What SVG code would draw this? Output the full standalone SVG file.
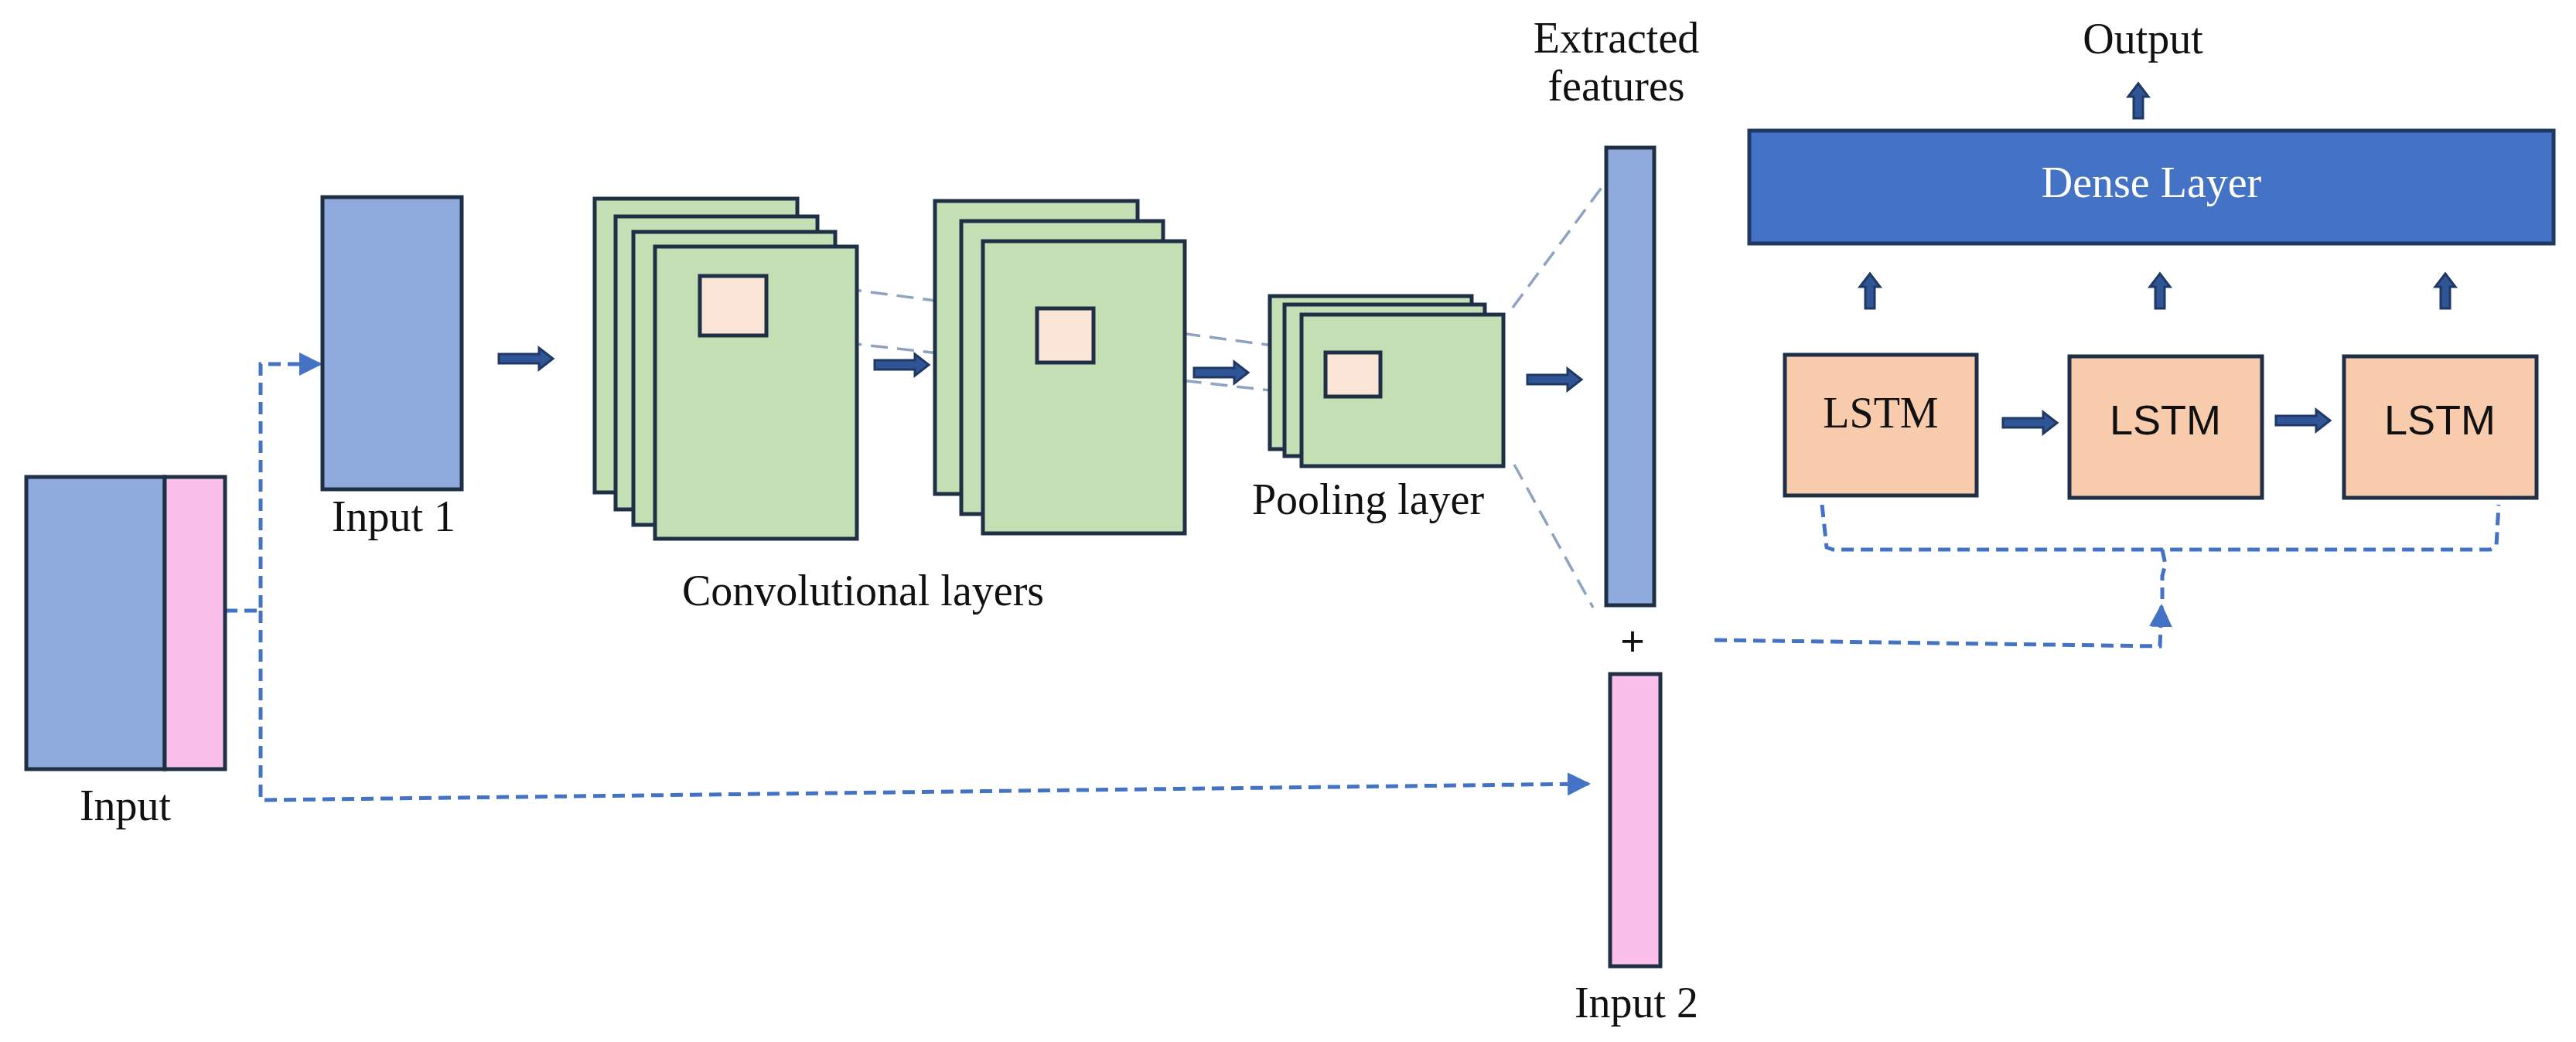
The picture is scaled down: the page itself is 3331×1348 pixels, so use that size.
<svg xmlns="http://www.w3.org/2000/svg" width="3331" height="1348" viewBox="0 0 3331 1348">
<style>
.bx{stroke:#1f3046;stroke-width:5}
.blue{fill:#8faadc}.pink{fill:#fbbfeb}.green{fill:#c5dfb4}.peach{fill:#fbe5d6}.lstm{fill:#f8cbad}
.t{font-family:"Liberation Serif",serif;font-size:56px;fill:#111}
.s{font-family:"Liberation Sans",sans-serif;font-size:54px;fill:#111}
.d{fill:none;stroke:#4472c4;stroke-width:5;stroke-dasharray:16 9}
.g{fill:none;stroke:#8da3bf;stroke-width:3.5;stroke-dasharray:22 12}
.ar{fill:#2f5597;stroke:#1f3864;stroke-width:3}
</style>
<defs>
<marker id="tri" viewBox="0 0 10 10" refX="9" refY="5" markerWidth="6" markerHeight="6" markerUnits="strokeWidth" orient="auto"><path d="M0,0L10,5L0,10z" fill="#4472c4"/></marker>
<path id="ra" d="M0,-6H52V-14L70,0L52,14V6H0Z"/>
<path id="ua" d="M-6,0V-28H-13L0,-45L13,-28H6V0Z"/>
</defs>
<g id="connectors">
<polyline class="d" points="291,790 337,790 337,471 414,471" marker-end="url(#tri)"/>
<polyline class="d" points="337,790 337,1035 2054,1014" marker-end="url(#tri)"/>
<polyline class="d" points="2217,828 2793,836 2795,784" marker-end="url(#tri)"/>
<polyline class="d" points="2356,653 2362,708 2370,711 3220,711 3228,706 3231,653"/>
<polyline class="d" points="2796,711 2800,730 2796,745 2796,775"/>
<line class="g" x1="991" y1="360" x2="1714" y2="456"/>
<line class="g" x1="991" y1="432" x2="1714" y2="513"/>
<line class="g" x1="1956" y1="398" x2="2073" y2="240"/>
<line class="g" x1="1958" y1="601" x2="2060" y2="786"/>
<g class="ar">
<use href="#ra" x="645" y="464"/><use href="#ra" x="1131" y="472"/><use href="#ra" x="1544" y="482"/><use href="#ra" x="1975" y="491"/>
<use href="#ra" x="2590" y="547"/><use href="#ra" x="2943" y="544"/>
<use href="#ua" x="2765" y="153"/><use href="#ua" x="2418" y="399"/><use href="#ua" x="2793" y="399"/><use href="#ua" x="3162" y="399"/>
</g>
</g>
<g id="input"><rect class="bx blue" x="34" y="617" width="179" height="378"/><rect class="bx pink" x="213" y="617" width="78" height="378"/><text class="t" x="162" y="1061" text-anchor="middle">Input</text></g>
<g id="input1"><rect class="bx blue" x="417" y="255" width="180" height="378"/><text class="t" x="509" y="687" text-anchor="middle">Input 1</text></g>
<g id="conv1">
<rect class="bx green" x="769" y="257" width="262" height="380"/><rect class="bx green" x="796" y="280" width="261" height="379"/><rect class="bx green" x="819" y="300" width="261" height="379"/><rect class="bx green" x="847" y="319" width="261" height="378"/>
<rect class="bx peach" x="905" y="357" width="86" height="77"/>
</g>
<g id="conv2">
<rect class="bx green" x="1209" y="260" width="262" height="379"/><rect class="bx green" x="1243" y="286" width="261" height="379"/><rect class="bx green" x="1271" y="312" width="261" height="378"/>
<rect class="bx peach" x="1341" y="399" width="73" height="70"/>
</g>
<text class="t" x="1116" y="783" text-anchor="middle">Convolutional layers</text>
<g id="pool">
<rect class="bx green" x="1642" y="383" width="261" height="198"/><rect class="bx green" x="1661" y="394" width="259" height="196"/><rect class="bx green" x="1683" y="407" width="261" height="196"/>
<rect class="bx peach" x="1714" y="456" width="71" height="57"/>
<text class="t" x="1769" y="665" text-anchor="middle">Pooling layer</text>
</g>
<g id="features"><rect class="bx blue" x="2077" y="191" width="62" height="592"/><text class="t" x="2090" y="68" text-anchor="middle">Extracted</text><text class="t" x="2090" y="130" text-anchor="middle">features</text></g>
<text class="s" x="2111" y="848" text-anchor="middle" font-size="46">+</text>
<g id="input2"><rect class="bx pink" x="2082" y="872" width="65" height="378"/><text class="t" x="2116" y="1316" text-anchor="middle">Input 2</text></g>
<g id="dense"><rect x="2262" y="169" width="1040" height="146" fill="#4472c4" stroke="#1f3864" stroke-width="5"/><text class="t" x="2782" y="255" text-anchor="middle" fill="#fff" style="fill:#fff" font-size="58">Dense Layer</text></g>
<text class="t" x="2771" y="69" text-anchor="middle">Output</text>
<g id="lstm1"><rect class="bx lstm" x="2308" y="459" width="248" height="182"/><text class="t" x="2432" y="553" text-anchor="middle" font-size="58">LSTM</text></g>
<g id="lstm2"><rect class="bx lstm" x="2676" y="461" width="249" height="183"/><text class="s" x="2800" y="562" text-anchor="middle">LSTM</text></g>
<g id="lstm3"><rect class="bx lstm" x="3031" y="461" width="249" height="183"/><text class="s" x="3155" y="562" text-anchor="middle">LSTM</text></g>
</svg>
